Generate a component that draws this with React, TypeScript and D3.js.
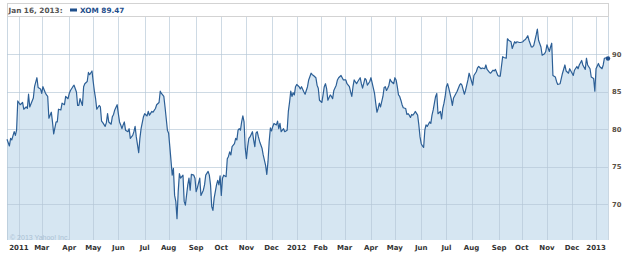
import React from "react";
import * as d3 from "d3";

// trading-day index (0 = Jan 18 2011) and XOM close
const dayIdx = [0,2,3,4,6,7,8,9,11,13,14,16,17,18,19,21,22,23,25,26,28,29,30,32,33,34,35,37,38,39,41,42,43,45,46,48,49,51,52,53,55,56,58,59,60,61,63,64,65,67,68,69,71,72,73,74,75,77,78,79,80,82,83,84,85,87,88,89,90,92,93,94,95,96,97,98,99,101,102,103,104,105,106,107,108,110,111,112,114,115,117,118,119,121,122,124,125,127,128,129,131,132,134,135,136,138,139,140,141,142,143,144,145,147,148,149,151,152,153,154,156,157,158,159,161,162,164,165,166,168,169,170,171,172,173,175,176,177,178,179,180,181,183,184,185,186,187,188,190,191,192,193,194,195,196,197,198,199,200,201,202,203,205,206,207,208,209,210,211,213,214,216,217,218,219,220,221,222,223,225,226,227,228,229,230,231,232,234,235,236,237,238,239,240,241,242,244,245,246,248,249,251,252,254,255,256,258,259,260,261,263,264,265,266,267,268,270,271,272,273,275,276,277,279,280,281,283,284,286,287,288,289,290,292,293,295,296,297,299,300,301,303,304,306,307,308,309,310,311,312,314,315,316,317,318,319,320,321,323,324,325,326,327,328,329,330,331,333,334,335,336,337,338,339,340,341,343,344,345,346,347,348,349,350,351,353,354,355,356,357,358,359,360,362,363,364,365,366,367,368,369,371,372,373,375,376,378,379,380,382,383,385,386,387,389,390,392,393,394,396,397,399,400,401,403,404,406,407,408,410,411,412,414,415,417,418,419,421,422,424,425,426,428,429,431,432,433,435,436,438,439,440,442,443,444,446,447,449,450,451,453,454,455,456,458,459,460,462,463,464,466,467,469,470,471,473,474,476,477,478,480,481,483,484,485,487,488,490,491,492,494,495,497,498,499,501,502];
const close = [78.7,77.8,78.8,78.6,79.7,79.2,79.9,83.8,83.3,83.6,82.7,83.0,82.8,84.7,83.0,83.8,84.2,85.7,86.9,85.6,85.4,84.8,85.7,84.9,84.6,84.4,81.5,82.3,81.0,79.4,81.0,81.0,82.7,82.6,83.5,83.3,84.4,84.1,84.8,85.2,85.7,85.9,85.0,83.2,83.2,84.1,83.2,85.7,86.1,86.4,87.6,87.3,87.8,86.4,85.1,84.1,82.7,83.2,83.0,81.1,80.9,80.4,80.9,82.1,81.0,80.7,81.7,82.0,82.6,83.3,82.1,81.0,80.6,80.1,80.6,81.0,79.9,79.7,80.1,78.8,79.0,79.2,79.7,80.4,79.0,76.9,78.8,80.1,81.7,82.1,81.8,82.4,81.9,82.4,82.3,82.8,83.3,83.6,85.1,84.8,84.4,83.0,79.9,79.5,77.7,73.9,74.8,71.2,70.4,68.1,71.7,74.1,73.5,73.9,70.4,69.9,72.6,73.5,71.9,74.0,73.9,73.5,71.7,72.2,73.5,71.2,71.9,72.6,73.9,74.4,73.9,72.6,69.7,69.2,70.8,72.6,73.2,72.6,73.8,71.2,73.5,73.9,73.7,76.1,76.4,77.0,76.6,77.7,78.1,78.8,78.6,79.9,80.1,79.9,81.0,81.8,81.0,77.5,76.1,77.7,78.8,79.0,79.7,78.6,77.7,79.5,79.7,79.0,78.4,77.5,76.6,75.2,74.0,75.7,78.4,80.2,79.8,80.4,80.8,80.6,81.1,80.1,80.8,79.7,79.9,80.1,79.7,79.9,82.4,83.6,85.1,84.4,84.9,84.6,85.7,86.0,85.7,85.4,85.7,85.0,84.7,85.7,86.6,87.5,87.3,87.2,86.9,85.9,85.5,83.9,83.6,84.6,85.7,86.1,85.4,83.9,84.6,84.4,84.1,85.2,85.9,86.6,86.9,87.2,86.9,86.6,86.6,86.1,85.7,85.0,84.4,85.7,86.6,86.1,86.4,86.9,86.1,85.5,86.8,86.6,85.9,86.4,86.9,85.5,84.8,83.5,82.3,82.8,83.5,83.0,84.4,85.6,85.7,85.2,85.5,85.9,86.7,86.4,86.1,86.9,86.6,85.7,84.6,84.4,83.9,83.3,82.9,82.8,82.0,82.1,81.9,81.6,82.0,81.9,82.1,82.4,81.9,80.6,79.0,78.1,77.8,77.6,79.9,80.6,80.4,81.0,80.8,81.9,82.6,83.5,84.4,84.8,82.1,82.4,81.4,82.8,83.5,84.4,85.7,86.1,85.5,84.1,83.2,84.2,84.8,85.1,85.9,86.1,85.9,84.7,85.2,86.6,87.5,87.0,85.9,87.2,87.7,88.2,88.4,88.1,88.2,88.1,88.6,88.0,87.6,87.5,87.9,87.8,88.0,87.2,87.1,87.1,89.7,89.6,89.5,92.1,91.9,91.7,90.8,91.7,91.5,91.7,91.6,91.6,91.7,91.9,92.0,92.5,91.9,91.0,91.0,91.2,92.6,93.4,91.9,91.0,89.9,90.1,90.4,91.3,90.4,91.0,91.5,87.2,87.0,86.4,86.0,86.1,86.8,87.5,88.6,87.8,87.5,88.1,87.8,87.2,87.9,88.4,88.1,88.6,89.2,88.6,88.0,89.5,88.6,88.1,87.0,86.8,85.1,88.1,88.8,88.4,88.1,88.6,89.5,89.6,89.47];

const tickLabels = ["2011","Mar","Apr","May","Jun","Jul","Aug","Sep","Oct","Nov","Dec","2012","Feb","Mar","Apr","May","Jun","Jul","Aug","Sep","Oct","Nov","Dec","2013"];
const tickDays = [10,29,52,72,93,115,135,158,179,200,221,242,262,282,304,324,346,367,388,411,430,451,472,492];
const yTicks = [70, 75, 80, 85, 90];
const headerDate = "Jan 16, 2013:";
const headerSeries = "XOM 89.47";
const lastDay = 502;

export default function App() {
  const W = 625, H = 253;
  const left = 7, right = 608, top = 17, bottom = 240;
  const x = d3.scaleLinear().domain([0, lastDay]).range([left, right]);
  const y = d3.scaleLinear().domain([65.25, 95]).range([bottom, top]);
  const data = dayIdx.map((d, i) => ({ d, v: close[i] }));
  const area = d3.area<any>().x((p) => x(p.d)).y0(bottom).y1((p) => y(p.v));
  const line = d3.line<any>().x((p) => x(p.d)).y((p) => y(p.v));
  const last = data[data.length - 1];
  const font = "'DejaVu Sans', Verdana, sans-serif";
  const grid = "#b4c6d6";
  return (
    <svg width={W} height={H} style={{ position: "absolute", left: 0, top: 0, background: "#fff" }}>
      <path d={area(data) || ""} fill="#d6e6f2" />
      {tickDays.map((t, i) => (
        <line key={"v" + i} x1={Math.round(x(t)) + 0.5} x2={Math.round(x(t)) + 0.5} y1={top} y2={bottom} stroke={grid} strokeOpacity={0.65} />
      ))}
      {yTicks.map((t) => (
        <line key={"h" + t} x1={left} x2={right} y1={Math.round(y(t)) + 0.5} y2={Math.round(y(t)) + 0.5} stroke={grid} strokeOpacity={0.65} />
      ))}
      <line x1={left + 0.5} x2={left + 0.5} y1={top} y2={bottom} stroke={grid} strokeOpacity={0.7} />
      <line x1={right + 0.5} x2={right + 0.5} y1={top} y2={bottom} stroke={grid} strokeOpacity={0.7} />
      <text x={10} y={239.5} fontFamily="'Liberation Sans', Arial, sans-serif" fontSize={7} fill="#abc1d4">© 2013 Yahoo! Inc.</text>
      <path d={line(data) || ""} fill="none" stroke="#2c5f96" strokeWidth={1.2} strokeLinejoin="round" />
      <circle cx={x(last.d)} cy={y(last.v)} r={2.2} fill="#1f4f8c" />
      <rect x={left + 0.5} y={3.5} width={right - left} height={13} fill="#fff" stroke="#d3d3d3" />
      <text x={8.5} y={12.8} fontFamily={font} fontSize={7.3} fontWeight="bold" fill="#555">{headerDate}</text>
      <rect x={70} y={8.5} width={7} height={3} fill="#1f4f8c" />
      <text x={80} y={12.8} fontFamily={font} fontSize={7.3} fontWeight="bold" fill="#1f4f8c">{headerSeries}</text>
      {tickDays.map((t, i) => (
        <text key={"tl" + i} x={x(t)} y={250} textAnchor="middle" fontFamily={font} fontSize={7} fontWeight="bold" fill="#333">{tickLabels[i]}</text>
      ))}
      {yTicks.map((t) => (
        <text key={"yl" + t} x={612} y={y(t) + 2.5} fontFamily={font} fontSize={6.8} fontWeight="bold" fill="#5a5046">{t}</text>
      ))}
    </svg>
  );
}
